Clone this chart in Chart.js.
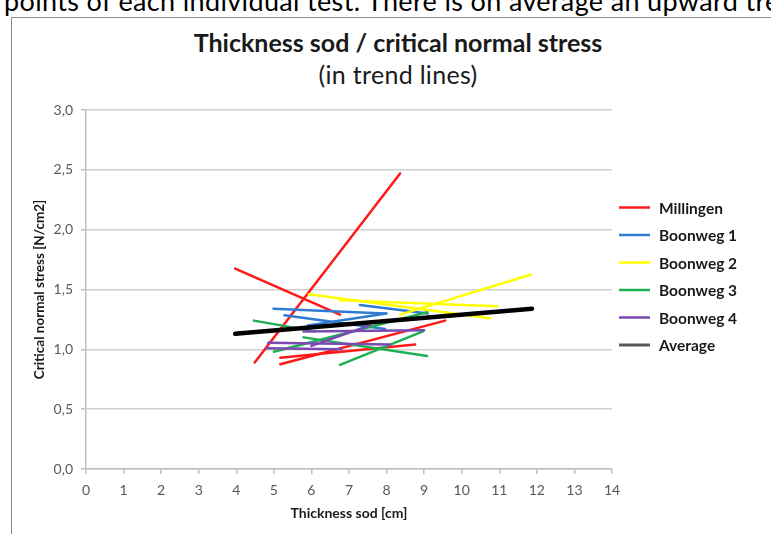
<!DOCTYPE html>
<html>
<head>
<meta charset="utf-8">
<script src="https://cdn.jsdelivr.net/npm/chart.js@4.4.1/dist/chart.umd.min.js"></script>
<style>
  html, body { margin: 0; padding: 0; background: #fff; overflow: hidden; }
  body { width: 771px; height: 534px; position: relative; font-family: Lato, "Open Sans", sans-serif; }
  #pagetext { position: absolute; left: 4px; top: -13px; font-size: 27px; line-height: 27px; letter-spacing: 0.35px; color: #000; white-space: nowrap; }
  #frame { position: absolute; left: 11px; top: 17px; width: 820px; height: 600px; border: 1px solid #8c8c8c; }
  #title { position: absolute; left: 0; width: 796px; top: 27px; text-align: center; font-weight: bold; font-size: 25px; color: #1a1a1a; }
  #subtitle { position: absolute; left: 0; width: 796px; top: 59px; text-align: center; font-size: 25px; letter-spacing: 0.3px; color: #1a1a1a; }
  #cv { position: absolute; left: 0; top: 0; }
</style>
</head>
<body>
<div id="pagetext">points of each individual test. There is on average an upward trend</div>
<div id="frame"></div>
<div id="title">Thickness sod / critical normal stress</div>
<div id="subtitle">(in trend lines)</div>
<canvas id="cv" width="771" height="534"></canvas>
<script>
// trend lines per test site: [x start, y start, x end, y end]
var millingen = [
  [4.49, 0.89, 8.36, 2.47],
  [3.97, 1.675, 6.76, 1.29],
  [5.17, 0.875, 9.56, 1.24],
  [5.17, 0.93, 8.76, 1.04]
];
var boonweg1 = [
  [4.99, 1.34, 7.96, 1.30],
  [5.28, 1.285, 7.96, 1.17],
  [7.29, 1.37, 9.10, 1.30],
  [5.90, 1.20, 8.00, 1.30]
];
var boonweg2 = [
  [8.36, 1.29, 11.85, 1.625],
  [5.93, 1.46, 10.76, 1.26],
  [6.76, 1.41, 10.95, 1.36]
];
var boonweg3 = [
  [4.47, 1.24, 6.10, 1.15],
  [5.00, 0.98, 9.08, 1.31],
  [5.79, 1.10, 9.08, 0.945],
  [6.76, 0.87, 8.97, 1.15]
];
var boonweg4 = [
  [5.79, 1.15, 9.00, 1.16],
  [4.85, 1.055, 8.10, 1.04],
  [4.80, 1.01, 6.80, 1.00],
  [6.00, 1.03, 7.56, 1.20]
];
var average = [
  [3.97, 1.13, 11.87, 1.34]
];

var seriesNames = ["Millingen", "Boonweg 1", "Boonweg 2", "Boonweg 3", "Boonweg 4", "Average"];
var seriesLines = [millingen, boonweg1, boonweg2, boonweg3, boonweg4, average];
var xTicks = [0, 1, 2, 3, 4, 5, 6, 7, 8, 9, 10, 11, 12, 13, 14];
var yTicks = [0, 0.5, 1, 1.5, 2, 2.5, 3];

var lineColors = ["#ff1a1a", "#2f7bcf", "#ffff00", "#1cb052", "#7a4ab2", "#000000"];
var legendColors = ["#ff1a1a", "#2f7bcf", "#ffff00", "#1cb052", "#7a4ab2", "#595959"];
var lineWidths = [2.5, 2.5, 2.5, 2.5, 2.5, 4.5];
var fontStack = "Lato, 'Open Sans', sans-serif";

var datasets = [];
for (var s = 0; s < seriesLines.length; s++) {
  for (var k = 0; k < seriesLines[s].length; k++) {
    var seg = seriesLines[s][k];
    datasets.push({
      label: seriesNames[s],
      data: [{ x: seg[0], y: seg[1] }, { x: seg[2], y: seg[3] }],
      showLine: true,
      borderColor: lineColors[s],
      backgroundColor: lineColors[s],
      borderWidth: lineWidths[s],
      borderCapStyle: "round",
      pointRadius: 0,
      // later series sit on top
      order: seriesLines.length - s
    });
  }
}

// legend drawn at the right, one row per series
var sideLegend = {
  id: "sideLegend",
  afterDraw: function(chart) {
    var ctx = chart.ctx;
    ctx.save();
    ctx.font = "bold 15.5px " + fontStack;
    ctx.textBaseline = "middle";
    ctx.fillStyle = "#1a1a1a";
    for (var i = 0; i < seriesNames.length; i++) {
      var y = 207.5 + i * 27.5;
      ctx.beginPath();
      ctx.moveTo(619, y);
      ctx.lineTo(650, y);
      ctx.lineWidth = i === 5 ? 3 : 2.5;
      ctx.strokeStyle = legendColors[i];
      ctx.stroke();
      ctx.fillText(seriesNames[i], 659, y + 1);
    }
    ctx.restore();
  }
};

new Chart(document.getElementById("cv"), {
  type: "scatter",
  data: { datasets: datasets },
  options: {
    responsive: false,
    animation: false,
    events: [],
    layout: { padding: { top: 110, right: 159, left: 0, bottom: 0 } },
    plugins: {
      legend: { display: false },
      tooltip: { enabled: false }
    },
    scales: {
      x: {
        type: "linear",
        min: 0,
        max: 14,
        afterFit: function(sc) { sc.height = 65; },
        afterBuildTicks: function(sc) { sc.ticks = xTicks.map(function(v) { return { value: v }; }); },
        grid: { drawOnChartArea: false, color: "#bfbfbf", lineWidth: 1.5, tickLength: 5 },
        border: { color: "#bfbfbf", width: 1.5 },
        ticks: { color: "#595959", font: { family: fontStack, size: 14 }, padding: 8, maxRotation: 0 },
        title: {
          display: true,
          text: "Thickness sod [cm]",
          color: "#1a1a1a",
          font: { family: fontStack, size: 14, weight: "bold" },
          padding: { top: 0, bottom: 12 }
        }
      },
      y: {
        type: "linear",
        min: 0,
        max: 3,
        afterFit: function(sc) { sc.width = 86; },
        afterBuildTicks: function(sc) { sc.ticks = yTicks.map(function(v) { return { value: v }; }); },
        grid: { color: "#d0d0d0", lineWidth: 1.5, tickLength: 5, tickColor: "#bfbfbf" },
        border: { color: "#bfbfbf", width: 1.5 },
        ticks: {
          color: "#595959",
          font: { family: fontStack, size: 14 },
          padding: 8,
          callback: function(v) { return v.toFixed(1).replace(".", ","); }
        },
        title: {
          display: true,
          text: "Critical normal stress [N/cm2]",
          color: "#1a1a1a",
          font: { family: fontStack, size: 13.5, weight: "bold" },
          padding: { top: 32, bottom: 0 }
        }
      }
    }
  },
  plugins: [sideLegend]
});
</script>
</body>
</html>
